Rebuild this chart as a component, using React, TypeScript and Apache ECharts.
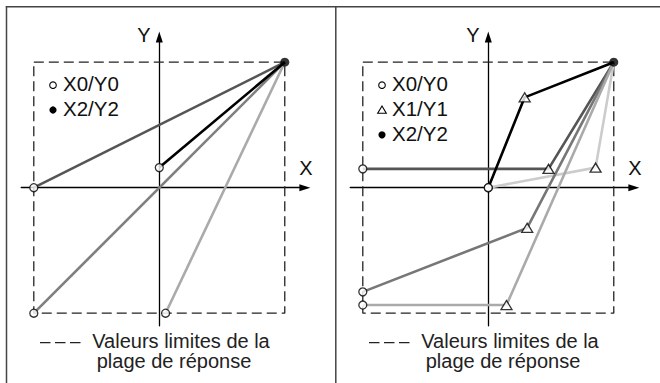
import React, { useEffect, useRef } from 'react';
import * as echarts from 'echarts';

// ---- data (normalised units, dashed box = [-1, 1]) ----
const boxLimits = [-1, 1];
const axisRangeX = [-1.1, 1.16];
const axisRangeY = [-1.1, 1.2];

// left panel: X0/Y0 -> X2/Y2
const leftLineA = [[-1, 0], [1, 1]];
const leftLineB = [[0, 0.16], [1, 1]];
const leftLineC = [[-1, -1], [1, 1]];
const leftLineD = [[0.05, -1], [1, 1]];
const leftColors = ['#555555', '#000000', '#7f7f7f', '#aaaaaa'];

// right panel: X0/Y0 -> X1/Y1 -> X2/Y2
const rightLineA = [[0, 0], [0.29, 0.72], [1, 1]];
const rightLineB = [[-1, 0.15], [0.48, 0.15], [1, 1]];
const rightLineC = [[0, 0], [0.855, 0.16], [1, 1]];
const rightLineD = [[-1, -0.83], [0.31, -0.32], [1, 1]];
const rightLineE = [[-1, -0.935], [0.145, -0.935], [1, 1]];
const rightColors = ['#000000', '#555555', '#cccccc', '#777777', '#aaaaaa'];

const leftLegend = ['X0/Y0', 'X2/Y2'];
const rightLegend = ['X0/Y0', 'X1/Y1', 'X2/Y2'];
const axisNames = ['X', 'Y'];
const noteLines = ['Valeurs limites de la', 'plage de réponse'];

const FONT = '"Liberation Sans", Arial, Helvetica, sans-serif';
const PANEL_SHIFT = 329;

export default function App() {
  const ref = useRef<HTMLDivElement>(null);

  useEffect(() => {
    if (!ref.current) return;
    const chart = echarts.init(ref.current, undefined, { renderer: 'svg' });

    const panels = [
      { lines: [leftLineA, leftLineB, leftLineC, leftLineD], colors: leftColors, legend: leftLegend },
      { lines: [rightLineA, rightLineB, rightLineC, rightLineD, rightLineE], colors: rightColors, legend: rightLegend },
    ];

    const grids: any[] = [];
    const xAxes: any[] = [];
    const yAxes: any[] = [];
    const series: any[] = [];
    const graphics: any[] = [];

    const box = [
      [boxLimits[0], boxLimits[1]],
      [boxLimits[1], boxLimits[1]],
      [boxLimits[1], boxLimits[0]],
      [boxLimits[0], boxLimits[0]],
      [boxLimits[0], boxLimits[1]],
    ];

    panels.forEach((p, i) => {
      const dx = i * PANEL_SHIFT;
      grids.push({ left: 21.25 + dx, top: 37.1, width: 283.6, height: 288.65 });
      const axisLine = {
        onZero: true,
        lineStyle: { color: '#000', width: 1.3 },
        symbol: ['none', 'triangle'],
        symbolSize: [7, 11],
      };
      xAxes.push({
        gridIndex: i, type: 'value', min: axisRangeX[0], max: axisRangeX[1],
        axisLine, axisTick: { show: false }, axisLabel: { show: false }, splitLine: { show: false },
      });
      yAxes.push({
        gridIndex: i, type: 'value', min: axisRangeY[0], max: axisRangeY[1],
        axisLine, axisTick: { show: false }, axisLabel: { show: false }, splitLine: { show: false },
      });
      // dashed limit box
      series.push({
        type: 'line', xAxisIndex: i, yAxisIndex: i, data: box, showSymbol: false, symbol: 'none',
        lineStyle: { color: '#222', width: 1.3, type: [10, 5] }, z: 1, silent: true,
      });
      const starts: number[][] = [];
      const mids: number[][] = [];
      const ends: number[][] = [];
      p.lines.forEach((ln, k) => {
        series.push({
          type: 'line', xAxisIndex: i, yAxisIndex: i, data: ln, showSymbol: false, symbol: 'none',
          lineStyle: { color: p.colors[k], width: 2.6 }, z: 2 + (p.colors[k] === '#000000' ? 1 : 0), silent: true,
        });
        starts.push(ln[0]);
        if (ln.length > 2) mids.push(ln[1]);
        ends.push(ln[ln.length - 1]);
      });
      series.push({
        type: 'scatter', xAxisIndex: i, yAxisIndex: i, data: starts, symbol: 'circle', symbolSize: 8,
        itemStyle: { color: '#fff', borderColor: '#000', borderWidth: 1.3 }, z: 5, silent: true,
      });
      if (mids.length) {
        series.push({
          type: 'scatter', xAxisIndex: i, yAxisIndex: i, data: mids, symbol: 'triangle', symbolSize: [11, 9],
          itemStyle: { color: '#fff', borderColor: '#000', borderWidth: 1.3 }, z: 5, silent: true,
        });
      }
      series.push({
        type: 'scatter', xAxisIndex: i, yAxisIndex: i, data: ends.slice(0, 1), symbol: 'circle', symbolSize: 9,
        itemStyle: { color: '#000' }, z: 5, silent: true,
      });

      // axis names
      graphics.push({
        type: 'text', x: 306 + dx, y: 168,
        style: { text: axisNames[0], fontSize: 20, fontFamily: FONT, fill: '#111', align: 'center', verticalAlign: 'middle', textAlign: 'center', textVerticalAlign: 'middle' },
      });
      graphics.push({
        type: 'text', x: 144 + dx, y: 35,
        style: { text: axisNames[1], fontSize: 20, fontFamily: FONT, fill: '#111', align: 'center', verticalAlign: 'middle', textAlign: 'center', textVerticalAlign: 'middle' },
      });

      // legend
      p.legend.forEach((lbl, k) => {
        const ty = 83.7 + k * 24.8;
        const sx = 53 + dx;
        const symY = ty + 1.5;
        if (lbl === 'X0/Y0') {
          graphics.push({ type: 'circle', shape: { cx: sx, cy: symY, r: 3.3 }, style: { fill: '#fff', stroke: '#000', lineWidth: 1.1 } });
        } else if (lbl === 'X1/Y1') {
          graphics.push({ type: 'polygon', shape: { points: [[sx - 4.3, symY + 3.2], [sx + 4.3, symY + 3.2], [sx, symY - 4]] }, style: { fill: '#fff', stroke: '#000', lineWidth: 1.1 } });
        } else {
          graphics.push({ type: 'circle', shape: { cx: sx, cy: symY, r: 3.6 }, style: { fill: '#000' } });
        }
        graphics.push({
          type: 'text', x: 63 + dx, y: ty,
          style: { text: lbl, fontSize: 20.5, fontFamily: FONT, fill: '#111', align: 'left', verticalAlign: 'middle', textAlign: 'left', textVerticalAlign: 'middle' },
        });
      });

      // dashed sample + note
      graphics.push({ type: 'line', shape: { x1: 40 + dx, y1: 342.7, x2: 81 + dx, y2: 342.7 }, style: { stroke: '#222', lineWidth: 1.3, lineDash: [10.5, 4.5] } });
      graphics.push({
        type: 'text', x: 181 + dx, y: 341,
        style: { text: noteLines[0], fontSize: 20, fontFamily: FONT, fill: '#222', align: 'center', verticalAlign: 'middle', textAlign: 'center', textVerticalAlign: 'middle' },
      });
      graphics.push({
        type: 'text', x: 174 + dx, y: 361.2,
        style: { text: noteLines[1], fontSize: 20, fontFamily: FONT, fill: '#222', align: 'center', verticalAlign: 'middle', textAlign: 'center', textVerticalAlign: 'middle' },
      });
    });

    // panel frame
    graphics.push({ type: 'line', shape: { x1: 5.8, y1: 6.8, x2: 660, y2: 6.8 }, style: { stroke: '#444', lineWidth: 1.5 } });
    graphics.push({ type: 'line', shape: { x1: 6.5, y1: 6, x2: 6.5, y2: 383 }, style: { stroke: '#444', lineWidth: 1.5 } });
    graphics.push({ type: 'line', shape: { x1: 335.8, y1: 6, x2: 335.8, y2: 383 }, style: { stroke: '#444', lineWidth: 1.5 } });

    chart.setOption({
      animation: false,
      backgroundColor: '#fff',
      grid: grids,
      xAxis: xAxes,
      yAxis: yAxes,
      series,
      graphic: graphics,
    });

    return () => chart.dispose();
  }, []);

  return <div ref={ref} style={{ position: 'fixed', left: 0, top: 0, width: 660, height: 383 }} />;
}
